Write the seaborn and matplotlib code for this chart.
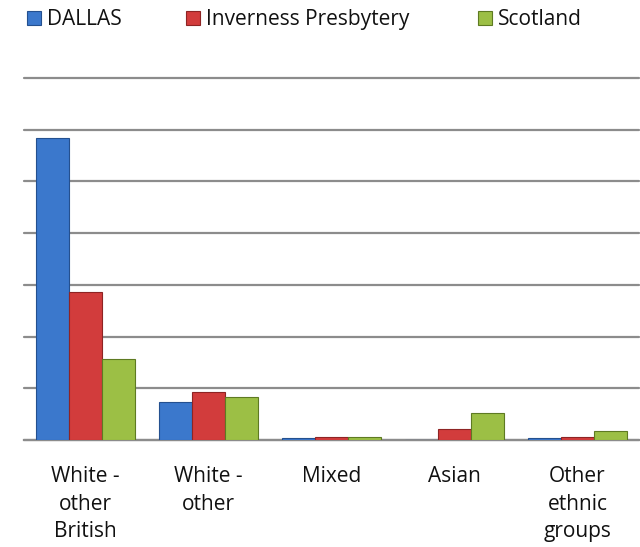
import matplotlib.pyplot as plt
import numpy as np
import pandas as pd
import seaborn as sns

categories = ["White -\nother\nBritish", "White -\nother", "Mixed", "Asian", "Other\nethnic\ngroups"]
series = ["DALLAS", "Inverness Presbytery", "Scotland"]
dallas = [58.4, 7.3, 0.3, 0.0, 0.3]
inverness = [28.6, 9.3, 0.6, 2.1, 0.5]
scotland = [15.7, 8.3, 0.5, 5.2, 1.7]

colors = ["#3B78CC", "#D23C3C", "#9CBF45"]
edges = ["#24508F", "#8E2424", "#5E7A22"]

df = pd.DataFrame({
    "category": np.repeat(categories, 3),
    "series": series * len(categories),
    "value": np.ravel(np.column_stack([dallas, inverness, scotland])),
})

sns.set_theme(style="white")
plt.rcParams["font.family"] = ["Open Sans", "DejaVu Sans"]

fig = plt.figure(figsize=(6.4, 5.47), dpi=100)
ax = fig.add_axes([24 / 640, 1 - 440 / 547, 615 / 640, 362 / 547])

sns.barplot(
    data=df, x="category", y="value", hue="series",
    palette=colors, width=0.8, ax=ax, legend=False, saturation=1,
)

# outline each bar with a darker tone of its series colour
for i, container in enumerate(ax.containers):
    for bar in container:
        bar.set_edgecolor(edges[i])
        bar.set_linewidth(0.8)
        bar.set_zorder(3)

ax.set_ylim(0, 70)
ax.set_yticks(np.arange(0, 71, 10))
ax.set_yticklabels([])
ax.yaxis.grid(True, color="#8C8C8C", linewidth=1.6)
for gl in ax.get_ygridlines():
    gl.set_clip_on(False)
ax.set_axisbelow(True)
for s in ["top", "right", "left"]:
    ax.spines[s].set_visible(False)
ax.spines["bottom"].set_color("#8C8C8C")
ax.spines["bottom"].set_linewidth(1.6)
ax.tick_params(axis="x", length=0, pad=19, labelsize=15)
ax.tick_params(axis="y", length=0)
for lbl in ax.get_xticklabels():
    lbl.set_linespacing(1.4)
    lbl.set_color("#111111")
ax.set_xlabel("")
ax.set_ylabel("")

handles = [plt.Rectangle((0, 0), 1, 1, facecolor=c, edgecolor=e, linewidth=0.8) for c, e in zip(colors, edges)]
xs = [19, 178, 470]
for h, name, x in zip(handles, series, xs):
    fig.legend([h], [name], loc="upper left", bbox_to_anchor=(x / 640, 1 - 1 / 547),
               frameon=False, fontsize=15, handlelength=0.65, handleheight=0.65,
               handletextpad=0.3, borderaxespad=0, labelcolor="#111111")

fig.savefig("out.png", dpi=100)
